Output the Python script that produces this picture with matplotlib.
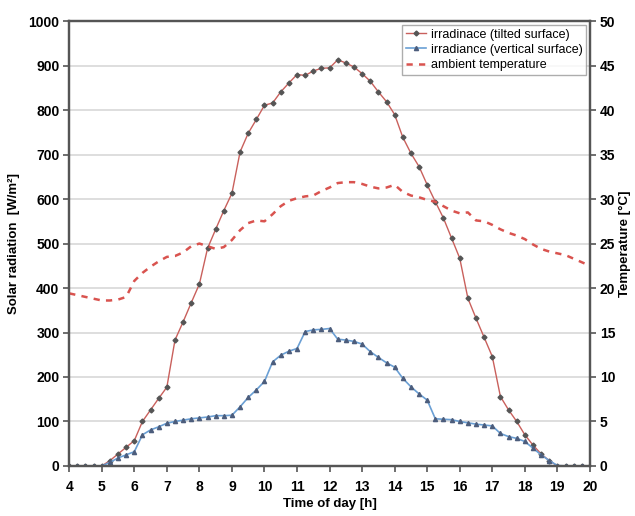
import numpy as np
import matplotlib
matplotlib.use("Agg")
import matplotlib.pyplot as plt

# time of day, 15 minute steps from 4:00 to 20:00
hours = [4 + 0.25 * k for k in range(65)]

# irradiance on the tilted surface [W/m2]
tilted = [0, 0, 0, 0, 0, 12, 27, 42, 57, 100, 126, 152, 177,
          283, 324, 367, 409, 489, 532, 574, 613, 706, 748, 779, 811,
          816, 841, 861, 880, 878, 888, 894, 895, 913, 906, 897, 882,
          865, 841, 819, 790, 739, 703, 673, 632, 594, 557, 512, 467,
          377, 332, 289, 246, 156, 126, 100, 70, 47, 27, 12, 0,
          0, 0, 0, 0]

# irradiance on the vertical surface [W/m2]
vertical = [0, 0, 0, 0, 0, 8, 18, 25, 32, 70, 81, 88, 96,
            100, 103, 106, 108, 110, 113, 113, 114, 133, 154, 171, 190,
            234, 249, 258, 264, 302, 306, 307, 309, 285, 283, 280, 274,
            257, 244, 232, 222, 197, 178, 162, 148, 106, 105, 104, 100,
            97, 94, 92, 90, 73, 66, 62, 55, 40, 25, 12, 1,
            0, 0, 0, 0]

# ambient temperature [C]
temperature = [19.4, 19.2, 19.0, 18.8, 18.6, 18.6, 18.7, 19.0, 20.8,
               21.7, 22.4, 23.0, 23.5, 23.6, 24.0, 24.7, 25.0, 24.7,
               24.4, 24.6, 25.4, 26.5, 27.3, 27.6, 27.5, 28.3, 29.2,
               29.8, 30.1, 30.3, 30.4, 30.9, 31.3, 31.8, 31.9, 31.9,
               31.7, 31.4, 31.2, 31.3, 31.6, 30.8, 30.4, 30.2, 29.9,
               29.7, 29.2, 28.7, 28.4, 28.5, 27.6, 27.5, 27.1, 26.6,
               26.2, 25.9, 25.5, 24.9, 24.4, 24.1, 23.9, 23.7, 23.3,
               22.9, 22.5]

plt.rcParams['font.family'] = ['Liberation Sans', 'DejaVu Sans']
plt.rcParams['font.weight'] = 'bold'

fig = plt.figure(figsize=(6.35, 5.16), dpi=100)
ax = fig.add_axes([0.109, 0.097, 0.82, 0.862])
ax2 = ax.twinx()

l1, = ax.plot(hours, tilted, color='#c9605c', lw=1.0, marker='D',
              ms=2.5, mfc='#555555', mec='#555555',
              label='irradinace (tilted surface)')
l2, = ax.plot(hours, vertical, color='#6a9fd4', lw=1.2, marker='^',
              ms=3, mfc='#4c5d7c', mec='#4c5d7c',
              label='irradiance (vertical surface)')
l3, = ax2.plot(hours, temperature, color='#d9534f', lw=1.8,
               ls=(0, (2.5, 2.5)), label='ambient temperature')

ax.set_xlim(4, 20)
ax.set_ylim(0, 1000)
ax2.set_ylim(0, 50)
ax.set_xticks(range(4, 21))
ax.set_yticks(range(0, 1001, 100))
ax2.set_yticks(range(0, 51, 5))
ax.yaxis.grid(True, color='#d8d8d8', lw=1.2)
ax.set_axisbelow(True)

for a in (ax, ax2):
    a.tick_params(labelsize=10, length=4, width=1.2, color='#555555',
                  pad=3)
    for s in a.spines.values():
        s.set_color('#555555')
        s.set_linewidth(1.6)
ax.tick_params(axis='x', pad=6)

ax.set_xlabel('Time of day [h]', fontsize=9.5, fontweight='bold', labelpad=3)
ax.set_ylabel('Solar radiation  [W/m²]', fontsize=9.5, fontweight='bold',
              labelpad=6)
ax2.set_ylabel('Temperature [°C]', fontsize=9.5, fontweight='bold',
               labelpad=3)

leg = ax.legend(handles=[l1, l2, l3], loc='upper right', fontsize=9,
                frameon=True, fancybox=False, borderpad=0.3,
                handlelength=1.6, handletextpad=0.4, labelspacing=0.25,
                borderaxespad=0.3)
leg.get_frame().set_edgecolor('#999999')
leg.get_frame().set_linewidth(1.0)
for t in leg.get_texts():
    t.set_fontweight('normal')

fig.savefig('out.png', dpi=100)
